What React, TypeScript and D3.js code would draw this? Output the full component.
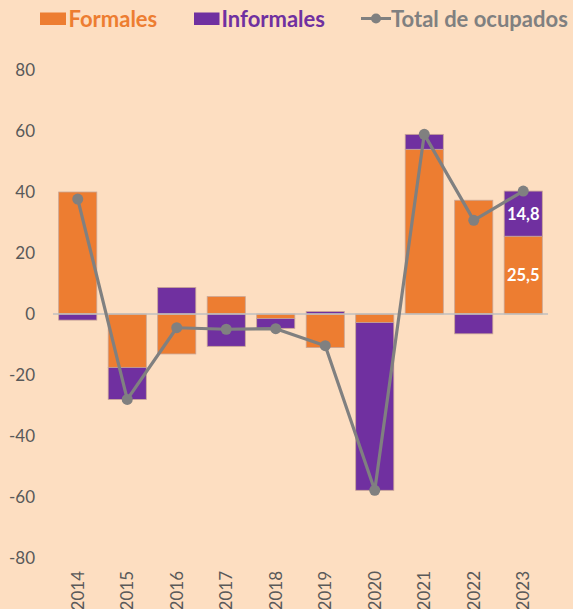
import React from "react";
import * as d3 from "d3";

const years = ["2014","2015","2016","2017","2018","2019","2020","2021","2022","2023"];
const formales = [40, -17.5, -13.1, 5.7, -1.5, -11, -2.8, 54, 37.3, 25.5];
const informales = [-2, -10.5, 8.7, -10.6, -3.2, 0.8, -55, 4.9, -6.5, 14.8];
const total = [37.7, -28, -4.5, -5.0, -4.8, -10.4, -57.8, 58.9, 30.7, 40.3];
const yTicks = [80, 60, 40, 20, 0, -20, -40, -60, -80];
const labelIndex = 9;

const W = 573, H = 609;
const BG = "#FDDEC1";
const ORANGE = "#ED7D31";
const PURPLE = "#7030A0";
const GRAY = "#808080";
const FONT = "Lato, 'Open Sans', sans-serif";

export default function App() {
  const x = d3.scaleBand<string>().domain(years).range([53, 548]).paddingInner(0.23).paddingOuter(0.115);
  const y = d3.scaleLinear().domain([-80, 80]).range([558, 70]);
  const line = d3.line<number>().x((_, i) => (x(years[i]) as number) + x.bandwidth() / 2).y(d => y(d));

  const segs: { x: number; y0: number; y1: number; color: string }[] = [];
  years.forEach((yr, i) => {
    let pos = 0, neg = 0;
    [[formales[i], ORANGE], [informales[i], PURPLE]].forEach(([v, c]) => {
      const val = v as number;
      let a: number, b: number;
      if (val >= 0) { a = pos; b = pos + val; pos = b; } else { a = neg; b = neg + val; neg = b; }
      segs.push({ x: x(yr) as number, y0: y(Math.max(a, b)), y1: y(Math.min(a, b)), color: c as string });
    });
  });

  const lx = (x(years[labelIndex]) as number) + x.bandwidth() / 2;

  return (
    <svg width={W} height={H} style={{ position: "absolute", left: 0, top: 0, display: "block" }}>
      <rect x={0} y={0} width={W} height={H} fill={BG} />
      {/* legend */}
      <g fontFamily={FONT} fontWeight="bold" fontSize={22}>
        <rect x={40} y={12.5} width={26} height={12.5} fill={ORANGE} />
        <text x={68.5} y={26.5} fill={ORANGE}>Formales</text>
        <rect x={194} y={12.5} width={25.5} height={12.5} fill={PURPLE} />
        <text x={221.5} y={26.5} fill={PURPLE}>Informales</text>
        <line x1={361} x2={391} y1={18.5} y2={18.5} stroke={GRAY} strokeWidth={3} />
        <circle cx={376} cy={18.5} r={5} fill={GRAY} />
        <text x={391} y={26.5} fill={GRAY}>Total de ocupados</text>
      </g>
      {/* y axis labels */}
      <g fontFamily={FONT} fontSize={17} fill="#595959" textAnchor="end">
        {yTicks.map(t => (
          <text key={t} x={35} y={y(t) + 6}>{t}</text>
        ))}
      </g>
      {/* bars */}
      {segs.map((s, i) => (
        <rect key={i} x={s.x} y={s.y0} width={x.bandwidth()} height={Math.max(0.5, s.y1 - s.y0)}
          fill={s.color} stroke="#C9A595" strokeWidth={0.8} />
      ))}
      {/* zero line */}
      <line x1={53} x2={548} y1={y(0)} y2={y(0)} stroke="#BFBFBF" strokeWidth={1.5} />
      {/* total line */}
      <path d={line(total) ?? ""} fill="none" stroke={GRAY} strokeWidth={3.2} strokeLinejoin="round" />
      {total.map((v, i) => (
        <circle key={i} cx={(x(years[i]) as number) + x.bandwidth() / 2} cy={y(v)} r={5.5} fill={GRAY} />
      ))}
      {/* data labels */}
      <g fontFamily={FONT} fontWeight="bold" fontSize={16.5} fill="#FFFFFF" textAnchor="middle">
        <text x={lx} y={y(formales[labelIndex] + informales[labelIndex] / 2) + 6}>{String(informales[labelIndex]).replace(".", ",")}</text>
        <text x={lx} y={y(formales[labelIndex] / 2) + 6}>{String(formales[labelIndex]).replace(".", ",")}</text>
      </g>
      {/* x axis labels */}
      <g fontFamily={FONT} fontSize={17} fill="#595959">
        {years.map(yr => {
          const cx = (x(yr) as number) + x.bandwidth() / 2;
          return (
            <text key={yr} transform={`translate(${cx + 6},571) rotate(-90)`} textAnchor="end">{yr}</text>
          );
        })}
      </g>
    </svg>
  );
}
